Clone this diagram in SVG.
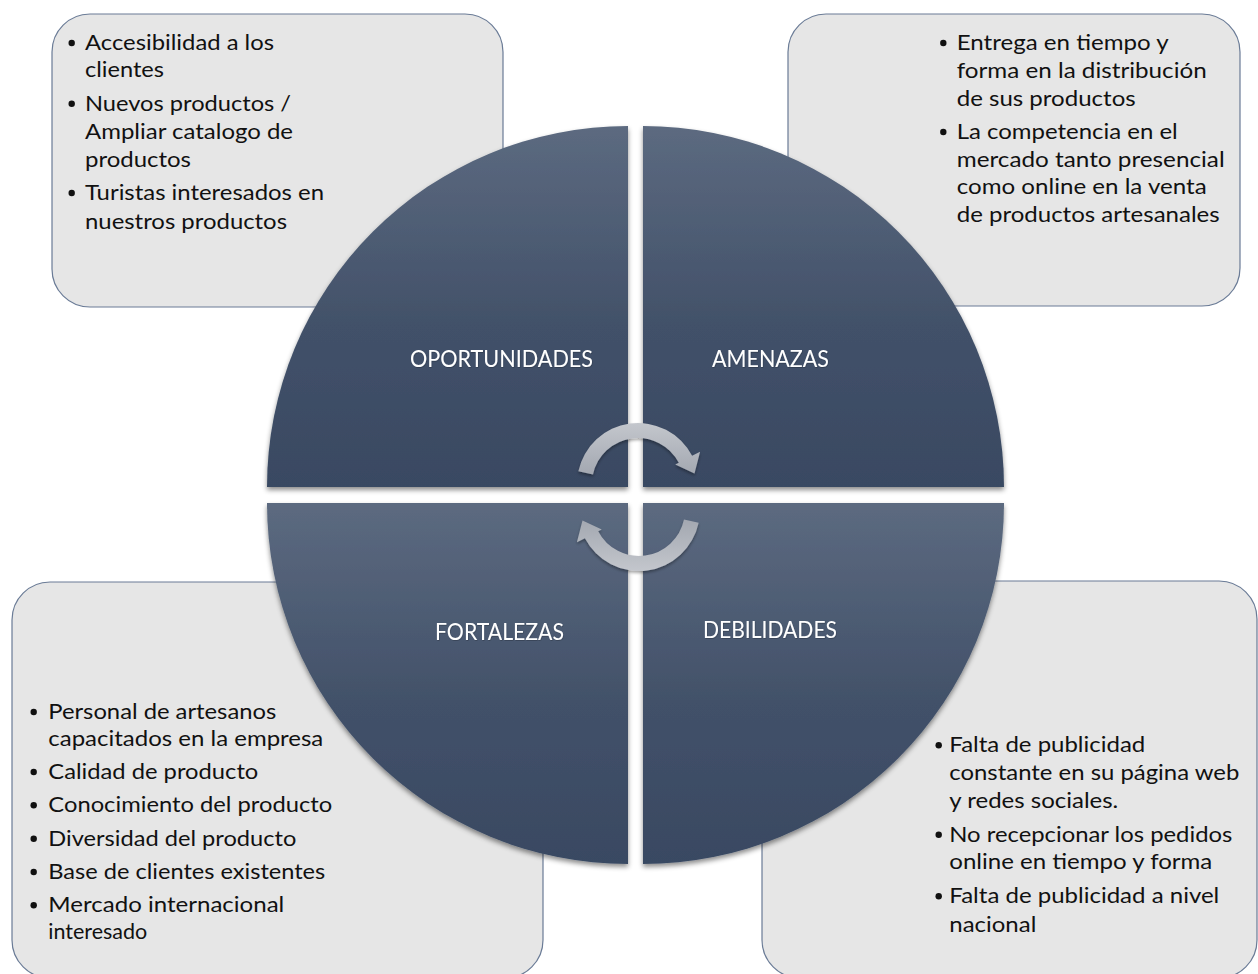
<svg xmlns="http://www.w3.org/2000/svg" width="1258" height="974" viewBox="0 0 1258 974">
  <style>
    .box { fill: #e6e6e6; stroke: #6a7b96; stroke-width: 1.2; }
    .item { font-family: Lato, "Liberation Sans", sans-serif; font-size: 21.5px; fill: #111111; }
    .dot { fill: #111111; }
    .label { font-family: Lato, "Liberation Sans", sans-serif; font-size: 23px; fill: #ffffff; }
    .quad { fill: url(#quadFill); filter: url(#quadShadow); }
  </style>
  <defs>
    <linearGradient id="quadFill" x1="0" y1="0" x2="0" y2="1">
      <stop offset="0" stop-color="#5c6a80"/>
      <stop offset="0.55" stop-color="#425169"/>
      <stop offset="1" stop-color="#394962"/>
    </linearGradient>
    <linearGradient id="arrowFill" gradientUnits="userSpaceOnUse" x1="0" y1="422" x2="0" y2="476">
      <stop offset="0" stop-color="#c4c7cd"/>
      <stop offset="1" stop-color="#a2a7b0"/>
    </linearGradient>
    <filter id="quadShadow" x="-10%" y="-10%" width="120%" height="125%">
      <feDropShadow dx="0" dy="3" stdDeviation="2.5" flood-color="#000000" flood-opacity="0.45"/>
    </filter>
    <filter id="arrowShadow" x="-20%" y="-20%" width="140%" height="150%">
      <feDropShadow dx="0" dy="2" stdDeviation="1.8" flood-color="#000000" flood-opacity="0.35"/>
    </filter>
    <filter id="labelShadow" x="-5%" y="-20%" width="110%" height="150%">
      <feDropShadow dx="0.5" dy="0.8" stdDeviation="0.5" flood-color="#000000" flood-opacity="0.25"/>
    </filter>
  </defs>

  <rect width="1258" height="974" fill="#ffffff"/>

  <!-- Text boxes (behind the circle) -->
  <g id="box-oportunidades">
    <rect class="box" x="52" y="14" width="451" height="293" rx="38" ry="38"/>
    <circle class="dot" cx="71.7" cy="43" r="3.2"/>
    <text class="item" x="85" y="50" textLength="189" lengthAdjust="spacingAndGlyphs">Accesibilidad a los</text>
    <text class="item" x="85" y="77.3" textLength="79" lengthAdjust="spacingAndGlyphs">clientes</text>
    <circle class="dot" cx="71.7" cy="103.7" r="3.2"/>
    <text class="item" x="85" y="110.7" textLength="206" lengthAdjust="spacingAndGlyphs">Nuevos productos /</text>
    <text class="item" x="85" y="139" textLength="208" lengthAdjust="spacingAndGlyphs">Ampliar catalogo de</text>
    <text class="item" x="85" y="166.7" textLength="106" lengthAdjust="spacingAndGlyphs">productos</text>
    <circle class="dot" cx="71.7" cy="193" r="3.2"/>
    <text class="item" x="85" y="200" textLength="239" lengthAdjust="spacingAndGlyphs">Turistas interesados en</text>
    <text class="item" x="85" y="229" textLength="202" lengthAdjust="spacingAndGlyphs">nuestros productos</text>
  </g>

  <g id="box-amenazas">
    <rect class="box" x="788" y="14" width="452" height="292" rx="38" ry="38"/>
    <circle class="dot" cx="943.3" cy="43" r="3.2"/>
    <text class="item" x="956.7" y="50" textLength="212" lengthAdjust="spacingAndGlyphs">Entrega en tiempo y</text>
    <text class="item" x="956.7" y="77.7" textLength="250" lengthAdjust="spacingAndGlyphs">forma en la distribución</text>
    <text class="item" x="956.7" y="105.5" textLength="179" lengthAdjust="spacingAndGlyphs">de sus productos</text>
    <circle class="dot" cx="943.3" cy="132" r="3.2"/>
    <text class="item" x="956.7" y="139" textLength="221" lengthAdjust="spacingAndGlyphs">La competencia en el</text>
    <text class="item" x="956.7" y="166.7" textLength="268" lengthAdjust="spacingAndGlyphs">mercado tanto presencial</text>
    <text class="item" x="956.7" y="194.4" textLength="250" lengthAdjust="spacingAndGlyphs">como online en la venta</text>
    <text class="item" x="956.7" y="222" textLength="263" lengthAdjust="spacingAndGlyphs">de productos artesanales</text>
  </g>

  <g id="box-fortalezas">
    <rect class="box" x="12" y="582" width="531" height="396" rx="38" ry="38"/>
    <circle class="dot" cx="33.7" cy="712" r="3.2"/>
    <text class="item" x="48.3" y="719" textLength="228" lengthAdjust="spacingAndGlyphs">Personal de artesanos</text>
    <text class="item" x="48.3" y="745.7" textLength="275" lengthAdjust="spacingAndGlyphs">capacitados en la empresa</text>
    <circle class="dot" cx="33.7" cy="772" r="3.2"/>
    <text class="item" x="48.3" y="779" textLength="210" lengthAdjust="spacingAndGlyphs">Calidad de producto</text>
    <circle class="dot" cx="33.7" cy="805.3" r="3.2"/>
    <text class="item" x="48.3" y="812.3" textLength="284" lengthAdjust="spacingAndGlyphs">Conocimiento del producto</text>
    <circle class="dot" cx="33.7" cy="838.7" r="3.2"/>
    <text class="item" x="48.3" y="845.7" textLength="248" lengthAdjust="spacingAndGlyphs">Diversidad del producto</text>
    <circle class="dot" cx="33.7" cy="872" r="3.2"/>
    <text class="item" x="48.3" y="879" textLength="277" lengthAdjust="spacingAndGlyphs">Base de clientes existentes</text>
    <circle class="dot" cx="33.7" cy="905.3" r="3.2"/>
    <text class="item" x="48.3" y="912.3" textLength="236" lengthAdjust="spacingAndGlyphs">Mercado internacional</text>
    <text class="item" x="48.3" y="939">interesado</text>
  </g>

  <g id="box-debilidades">
    <rect class="box" x="762" y="581" width="495" height="397" rx="38" ry="38"/>
    <circle class="dot" cx="938.7" cy="745.3" r="3.2"/>
    <text class="item" x="949.3" y="752.3" textLength="196" lengthAdjust="spacingAndGlyphs">Falta de publicidad</text>
    <text class="item" x="949.3" y="780" textLength="290" lengthAdjust="spacingAndGlyphs">constante en su página web</text>
    <text class="item" x="949.3" y="808.3" textLength="169" lengthAdjust="spacingAndGlyphs">y redes sociales.</text>
    <circle class="dot" cx="938.7" cy="834.7" r="3.2"/>
    <text class="item" x="949.3" y="841.7" textLength="283" lengthAdjust="spacingAndGlyphs">No recepcionar los pedidos</text>
    <text class="item" x="949.3" y="869.3" textLength="263" lengthAdjust="spacingAndGlyphs">online en tiempo y forma</text>
    <circle class="dot" cx="938.7" cy="896.3" r="3.2"/>
    <text class="item" x="949.3" y="903.3" textLength="270" lengthAdjust="spacingAndGlyphs">Falta de publicidad a nivel</text>
    <text class="item" x="949.3" y="931.7" textLength="87" lengthAdjust="spacingAndGlyphs">nacional</text>
  </g>

  <!-- Four quadrants of the central circle -->
  <g id="quad-oportunidades">
    <path class="quad" d="M628,487 L267,487 A361,361 0 0 1 628,126 Z"/>
    <text class="label" x="410" y="367" textLength="183" lengthAdjust="spacingAndGlyphs" filter="url(#labelShadow)">OPORTUNIDADES</text>
  </g>
  <g id="quad-amenazas">
    <path class="quad" d="M643,487 L643,126 A361,361 0 0 1 1004,487 Z"/>
    <text class="label" x="712" y="367" textLength="117" lengthAdjust="spacingAndGlyphs" filter="url(#labelShadow)">AMENAZAS</text>
  </g>
  <g id="quad-fortalezas">
    <path class="quad" d="M628,503 L628,864 A361,361 0 0 1 267,503 Z"/>
    <text class="label" x="435" y="640" textLength="129" lengthAdjust="spacingAndGlyphs" filter="url(#labelShadow)">FORTALEZAS</text>
  </g>
  <g id="quad-debilidades">
    <path class="quad" d="M643,503 L1004,503 A361,361 0 0 1 643,864 Z"/>
    <text class="label" x="703" y="638" textLength="134" lengthAdjust="spacingAndGlyphs" filter="url(#labelShadow)">DEBILIDADES</text>
  </g>

  <!-- Cycle arrows in the centre -->
  <g id="connectors" filter="url(#arrowShadow)">
    <path id="arrow-top" fill="url(#arrowFill)" d="M578.33,471.32 A61,61 0 0 1 692.11,455.84 L700.09,451.68 L694.5,473.5 L675.25,464.61 L678.8,462.76 A46,46 0 0 0 593.01,474.44 Z"/>
    <path id="arrow-bottom" fill="url(#arrowFill)" transform="rotate(180 638.5 497)" d="M578.33,471.32 A61,61 0 0 1 692.11,455.84 L700.09,451.68 L694.5,473.5 L675.25,464.61 L678.8,462.76 A46,46 0 0 0 593.01,474.44 Z"/>
  </g>
</svg>
